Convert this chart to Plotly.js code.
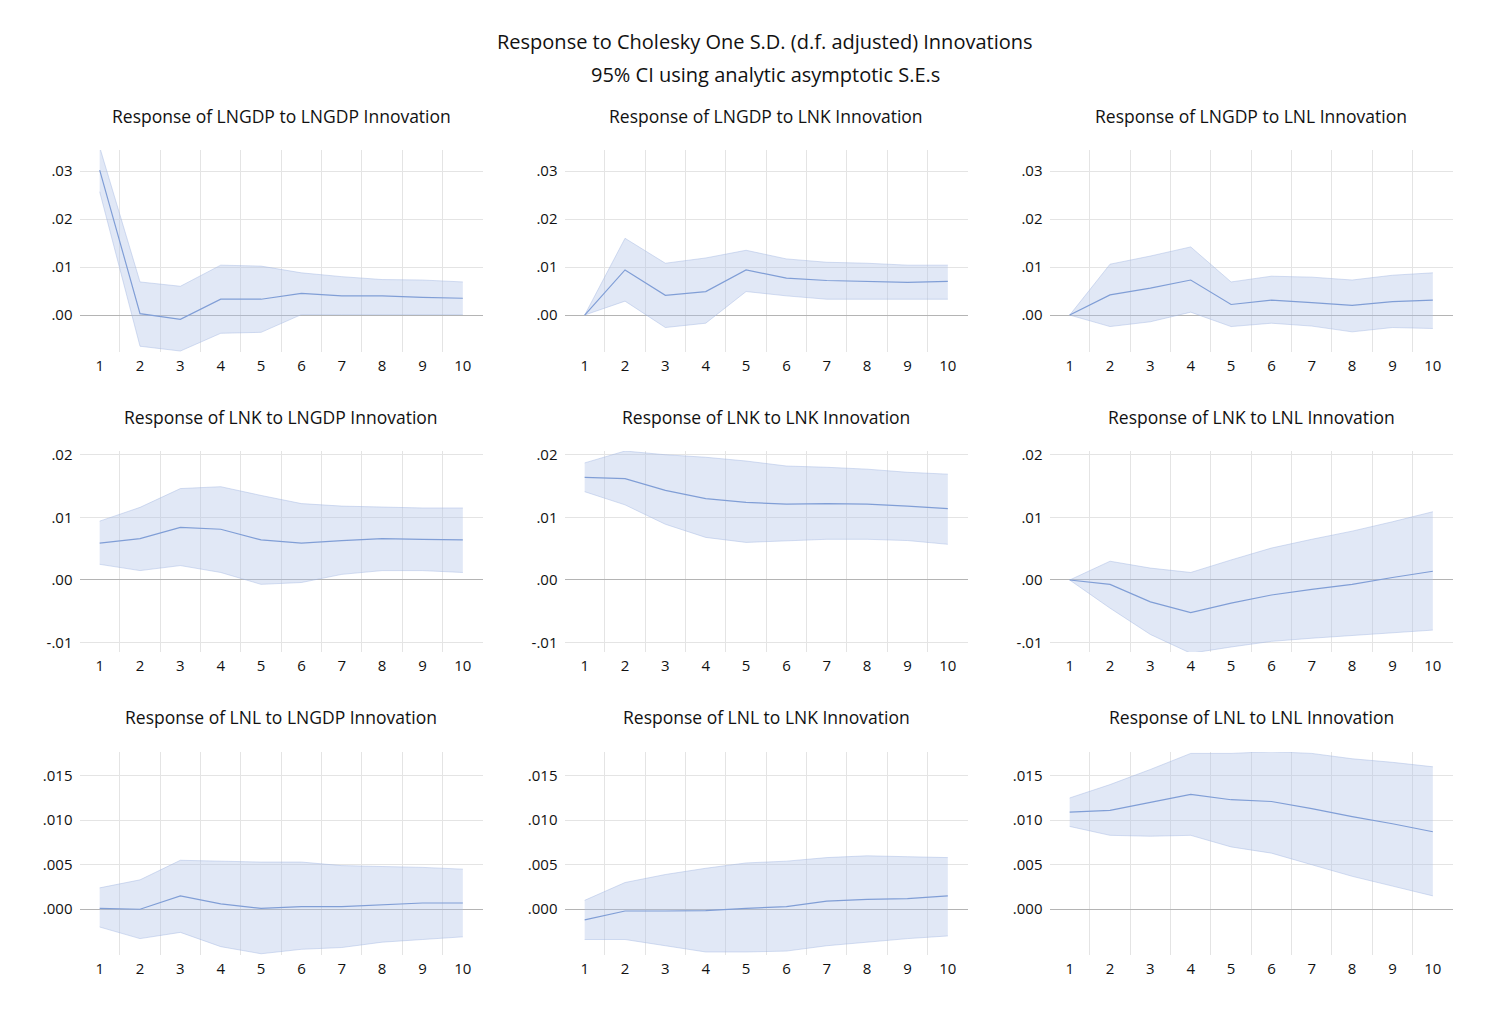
<!DOCTYPE html>
<html>
<head>
<meta charset="utf-8">
<script src="https://cdn.plot.ly/plotly-3.0.1.min.js"></script>
<style>html,body{margin:0;padding:0;background:#fff;}#chart{width:1500px;height:1019px;}</style>
</head>
<body>
<div id="chart"></div>
<script>
// ---- data ----
const periods = [1,2,3,4,5,6,7,8,9,10];

const mainTitle1 = "Response to Cholesky One S.D. (d.f. adjusted) Innovations";
const mainTitle2 = "95% CI using analytic asymptotic S.E.s";

const panelTitles = [
  "Response of LNGDP to LNGDP Innovation", "Response of LNGDP to LNK Innovation", "Response of LNGDP to LNL Innovation",
  "Response of LNK to LNGDP Innovation", "Response of LNK to LNK Innovation", "Response of LNK to LNL Innovation",
  "Response of LNL to LNGDP Innovation", "Response of LNL to LNK Innovation", "Response of LNL to LNL Innovation"
];

// Response of LNGDP
const gdp_gdp_mean  = [0.0302, 0.0003, -0.0009, 0.0033, 0.0033, 0.0045, 0.0040, 0.0040, 0.0037, 0.0035];
const gdp_gdp_lower = [0.0257, -0.0065, -0.0075, -0.0038, -0.0036, 0.0001, 0.0001, 0.0001, 0.0001, 0.0001];
const gdp_gdp_upper = [0.0350, 0.0069, 0.0060, 0.0104, 0.0102, 0.0088, 0.0080, 0.0074, 0.0073, 0.0069];

const gdp_k_mean  = [0, 0.0094, 0.0041, 0.0049, 0.0094, 0.0077, 0.0072, 0.0070, 0.0068, 0.0070];
const gdp_k_lower = [0, 0.0029, -0.0026, -0.0017, 0.0049, 0.0040, 0.0033, 0.0033, 0.0033, 0.0033];
const gdp_k_upper = [0, 0.0160, 0.0108, 0.0119, 0.0135, 0.0117, 0.0110, 0.0108, 0.0104, 0.0104];

const gdp_l_mean  = [0, 0.0042, 0.0056, 0.0073, 0.0022, 0.0031, 0.0026, 0.0020, 0.0028, 0.0031];
const gdp_l_lower = [0, -0.0024, -0.0014, 0.0006, -0.0024, -0.0017, -0.0023, -0.0035, -0.0026, -0.0028];
const gdp_l_upper = [0, 0.0106, 0.0123, 0.0142, 0.0069, 0.0081, 0.0079, 0.0073, 0.0083, 0.0088];

// Response of LNK
const k_gdp_mean  = [0.0059, 0.0066, 0.0084, 0.0081, 0.0064, 0.0059, 0.0063, 0.0066, 0.0065, 0.0064];
const k_gdp_lower = [0.0025, 0.0015, 0.0023, 0.0012, -0.0007, -0.0004, 0.0009, 0.0015, 0.0015, 0.0012];
const k_gdp_upper = [0.0094, 0.0116, 0.0146, 0.0149, 0.0135, 0.0122, 0.0118, 0.0116, 0.0115, 0.0115];

const k_k_mean  = [0.0164, 0.0162, 0.0143, 0.0130, 0.0124, 0.0121, 0.0122, 0.0121, 0.0118, 0.0114];
const k_k_lower = [0.0141, 0.0120, 0.0089, 0.0068, 0.0060, 0.0062, 0.0065, 0.0065, 0.0063, 0.0057];
const k_k_upper = [0.0187, 0.0206, 0.0200, 0.0196, 0.0190, 0.0182, 0.0180, 0.0177, 0.0172, 0.0169];

const k_l_mean  = [0, -0.0007, -0.0035, -0.0052, -0.0037, -0.0024, -0.0015, -0.0007, 0.0004, 0.0014];
const k_l_lower = [0, -0.0045, -0.0087, -0.0117, -0.0107, -0.0098, -0.0093, -0.0089, -0.0084, -0.0080];
const k_l_upper = [0, 0.0030, 0.0019, 0.0012, 0.0032, 0.0051, 0.0065, 0.0078, 0.0093, 0.0109];

// Response of LNL
const l_gdp_mean  = [0.0001, 0.0000, 0.0015, 0.0006, 0.0001, 0.0003, 0.0003, 0.0005, 0.0007, 0.0007];
const l_gdp_lower = [-0.0020, -0.0033, -0.0026, -0.0042, -0.0050, -0.0045, -0.0043, -0.0037, -0.0034, -0.0031];
const l_gdp_upper = [0.0024, 0.0033, 0.0055, 0.0054, 0.0053, 0.0053, 0.0049, 0.0048, 0.0047, 0.0045];

const l_k_mean  = [-0.0012, -0.0002, -0.0002, -0.00015, 0.0001, 0.0003, 0.0009, 0.0011, 0.0012, 0.0015];
const l_k_lower = [-0.0034, -0.0034, -0.0041, -0.0048, -0.0048, -0.0047, -0.0041, -0.0037, -0.0033, -0.0030];
const l_k_upper = [0.0010, 0.0030, 0.0039, 0.0046, 0.0052, 0.0054, 0.0058, 0.0060, 0.0059, 0.0058];

const l_l_mean  = [0.0109, 0.0111, 0.0120, 0.0129, 0.0123, 0.0121, 0.0113, 0.0104, 0.0096, 0.0087];
const l_l_lower = [0.0093, 0.0083, 0.0082, 0.0083, 0.0070, 0.0063, 0.0050, 0.0037, 0.0026, 0.0015];
const l_l_upper = [0.0125, 0.0140, 0.0157, 0.0175, 0.0175, 0.0177, 0.0175, 0.0169, 0.0165, 0.0160];

// tick labels per row
const row1TickVals = [0, 0.01, 0.02, 0.03];
const row1TickText = [".00", ".01", ".02", ".03"];
const row2TickVals = [-0.01, 0, 0.01, 0.02];
const row2TickText = ["-.01", ".00", ".01", ".02"];
const row3TickVals = [0, 0.005, 0.010, 0.015];
const row3TickText = [".000", ".005", ".010", ".015"];
const xTickText = ["1","2","3","4","5","6","7","8","9","10"];

// ---- assembly ----
const panels = [
  [gdp_gdp_mean, gdp_gdp_lower, gdp_gdp_upper],
  [gdp_k_mean, gdp_k_lower, gdp_k_upper],
  [gdp_l_mean, gdp_l_lower, gdp_l_upper],
  [k_gdp_mean, k_gdp_lower, k_gdp_upper],
  [k_k_mean, k_k_lower, k_k_upper],
  [k_l_mean, k_l_lower, k_l_upper],
  [l_gdp_mean, l_gdp_lower, l_gdp_upper],
  [l_k_mean, l_k_lower, l_k_upper],
  [l_l_mean, l_l_lower, l_l_upper]
];

const W = 1500, H = 1019;
const colPx = [[79.5, 483], [564.5, 968], [1049.5, 1453]];
const rowPx = [[150, 352], [451, 652], [752, 955]];
const rowRanges = [[-0.0077, 0.0344], [-0.0115, 0.0206], [-0.00514, 0.01766]];
const rowTicks = [[row1TickVals, row1TickText], [row2TickVals, row2TickText], [row3TickVals, row3TickText]];
const titleY = [116, 417, 717];

const FONT = "Open Sans, Noto Sans, sans-serif";
const fillCol = "rgba(175,195,232,0.38)";
const edgeCol = "rgba(160,182,225,0.55)";
const lineCol = "rgb(128,158,214)";

const traces = [];
const layout = {
  width: W, height: H,
  margin: {l: 0, r: 0, t: 0, b: 0},
  paper_bgcolor: "#fff", plot_bgcolor: "#fff",
  showlegend: false,
  font: {family: FONT, color: "#111", size: 15},
  annotations: []
};

const minorVals = [1.5,2.5,3.5,4.5,5.5,6.5,7.5,8.5,9.5];

panels.forEach((p, i) => {
  const r = Math.floor(i / 3), c = i % 3;
  const n = i + 1;
  const xa = n === 1 ? "x" : "x" + n;
  const ya = n === 1 ? "y" : "y" + n;
  traces.push({x: periods, y: p[1], xaxis: xa, yaxis: ya, type: "scatter", mode: "lines",
    line: {color: edgeCol, width: 0.8}, hoverinfo: "skip"});
  traces.push({x: periods, y: p[2], xaxis: xa, yaxis: ya, type: "scatter", mode: "lines",
    fill: "tonexty", fillcolor: fillCol, line: {color: edgeCol, width: 0.8}, hoverinfo: "skip"});
  traces.push({x: periods, y: p[0], xaxis: xa, yaxis: ya, type: "scatter", mode: "lines",
    line: {color: lineCol, width: 1.2}});

  const xKey = n === 1 ? "xaxis" : "xaxis" + n;
  const yKey = n === 1 ? "yaxis" : "yaxis" + n;
  layout[xKey] = {
    domain: [colPx[c][0] / W, colPx[c][1] / W],
    anchor: ya,
    range: [0.5, 10.5],
    tickmode: "array", tickvals: periods, ticktext: xTickText,
    showgrid: false, zeroline: false, showline: false, ticks: "",
    ticklabelstandoff: 3,
    tickfont: {family: FONT, size: 15, color: "#111"},
    minor: {tickmode: "array", tickvals: minorVals, showgrid: true, gridcolor: "#e4e4e4", gridwidth: 1, ticks: ""},
    fixedrange: true
  };
  layout[yKey] = {
    domain: [1 - rowPx[r][1] / H, 1 - rowPx[r][0] / H],
    anchor: xa,
    range: rowRanges[r],
    tickmode: "array", tickvals: rowTicks[r][0], ticktext: rowTicks[r][1],
    showgrid: true, gridcolor: "#e4e4e4", gridwidth: 1,
    zeroline: true, zerolinecolor: "#b4b4b4", zerolinewidth: 1,
    showline: false, ticks: "",
    ticklabelstandoff: 6,
    tickfont: {family: FONT, size: 15, color: "#111"},
    fixedrange: true
  };
  layout.annotations.push({
    text: panelTitles[i], xref: "paper", yref: "paper",
    x: (colPx[c][0] + colPx[c][1]) / 2 / W, y: 1 - titleY[r] / H,
    xanchor: "center", yanchor: "middle", showarrow: false,
    font: {family: FONT, size: 17.5, color: "#111"}
  });
});

layout.annotations.push({
  text: mainTitle1, xref: "paper", yref: "paper", x: 765 / W, y: 1 - 42 / H,
  xanchor: "center", yanchor: "middle", showarrow: false,
  font: {family: FONT, size: 20, color: "#111"}
});
layout.annotations.push({
  text: mainTitle2, xref: "paper", yref: "paper", x: 765 / W, y: 1 - 74 / H,
  xanchor: "center", yanchor: "middle", showarrow: false,
  font: {family: FONT, size: 20, color: "#111"}
});

Plotly.newPlot("chart", traces, layout, {displayModeBar: false, staticPlot: true});
</script>
</body>
</html>
